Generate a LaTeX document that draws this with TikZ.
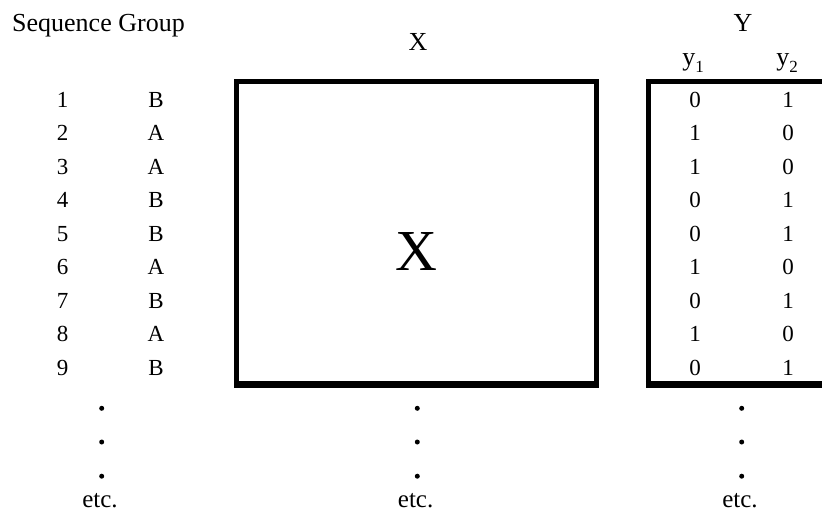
\documentclass[tikz,border=0pt]{standalone}
\usepackage{fontspec}
\setmainfont{Liberation Serif}
\begin{document}
\begin{tikzpicture}[x=1pt,y=-1pt,
  cell/.style={font=\fontsize{23}{23}\selectfont, anchor=base, inner sep=0pt},
  hdr/.style={font=\fontsize{26}{26}\selectfont, anchor=base, inner sep=0pt},
  etcl/.style={font=\fontsize{25}{25}\selectfont, anchor=base, inner sep=0pt},
  frame/.style={line width=5pt, line join=miter},
  framebot/.style={line width=7pt},
  dot/.style={fill=black, draw=none}]
\useasboundingbox (0,0) rectangle (822,512);
\clip (0,0) rectangle (822,512);
% headers
\node[hdr, anchor=base west] (seq) at (12,31.7) {Sequence Group};
\node[hdr] (hx) at (418,50.7) {X};
\node[hdr] (hy) at (743,31.7) {Y};
\node[hdr] (y1) at (693,65) {y\raisebox{-7pt}{\fontsize{17}{17}\selectfont 1}};
\node[hdr] (y2) at (787,65) {y\raisebox{-7pt}{\fontsize{17}{17}\selectfont 2}};
% box X
\draw[frame] (236.5,81.5) rectangle (596.5,384.2);
\draw[framebot] (234,384.2) -- (599,384.2);
\node[font=\fontsize{58}{58}\selectfont, anchor=base, inner sep=0pt] (bigx) at (416.5,270) {X};
% box Y (open to the right, cut by the border)
\draw[frame] (830,81.2) -- (648.3,81.2) -- (648.3,384.2);
\draw[framebot] (645.8,384.2) -- (830,384.2);
% rows
\foreach \i/\g/\a/\b in {1/B/0/1,2/A/1/0,3/A/1/0,4/B/0/1,5/B/0/1,6/A/1/0,7/B/0/1,8/A/1/0,9/B/0/1}{
  \pgfmathsetmacro{\yy}{107.3+33.5*(\i-1)}
  \node[cell] (n\i) at (62.5,\yy) {\i};
  \node[cell] (g\i) at (156,\yy) {\g};
  \node[cell] (a\i) at (695,\yy) {\a};
  \node[cell] (b\i) at (788,\yy) {\b};
}
% dots and etc.
\foreach \x/\nm in {101.7/l,417.3/m,741.7/r}{
  \foreach \y/\k in {408.3/1,442/2,476.2/3}{
    \fill[dot] (\x,\y) circle (2.5);
  }
}
\node[etcl] (etcl) at (100,507.5) {etc.};
\node[etcl] (etcm) at (415.6,507.5) {etc.};
\node[etcl] (etcr) at (740,507.5) {etc.};
\end{tikzpicture}
\end{document}
